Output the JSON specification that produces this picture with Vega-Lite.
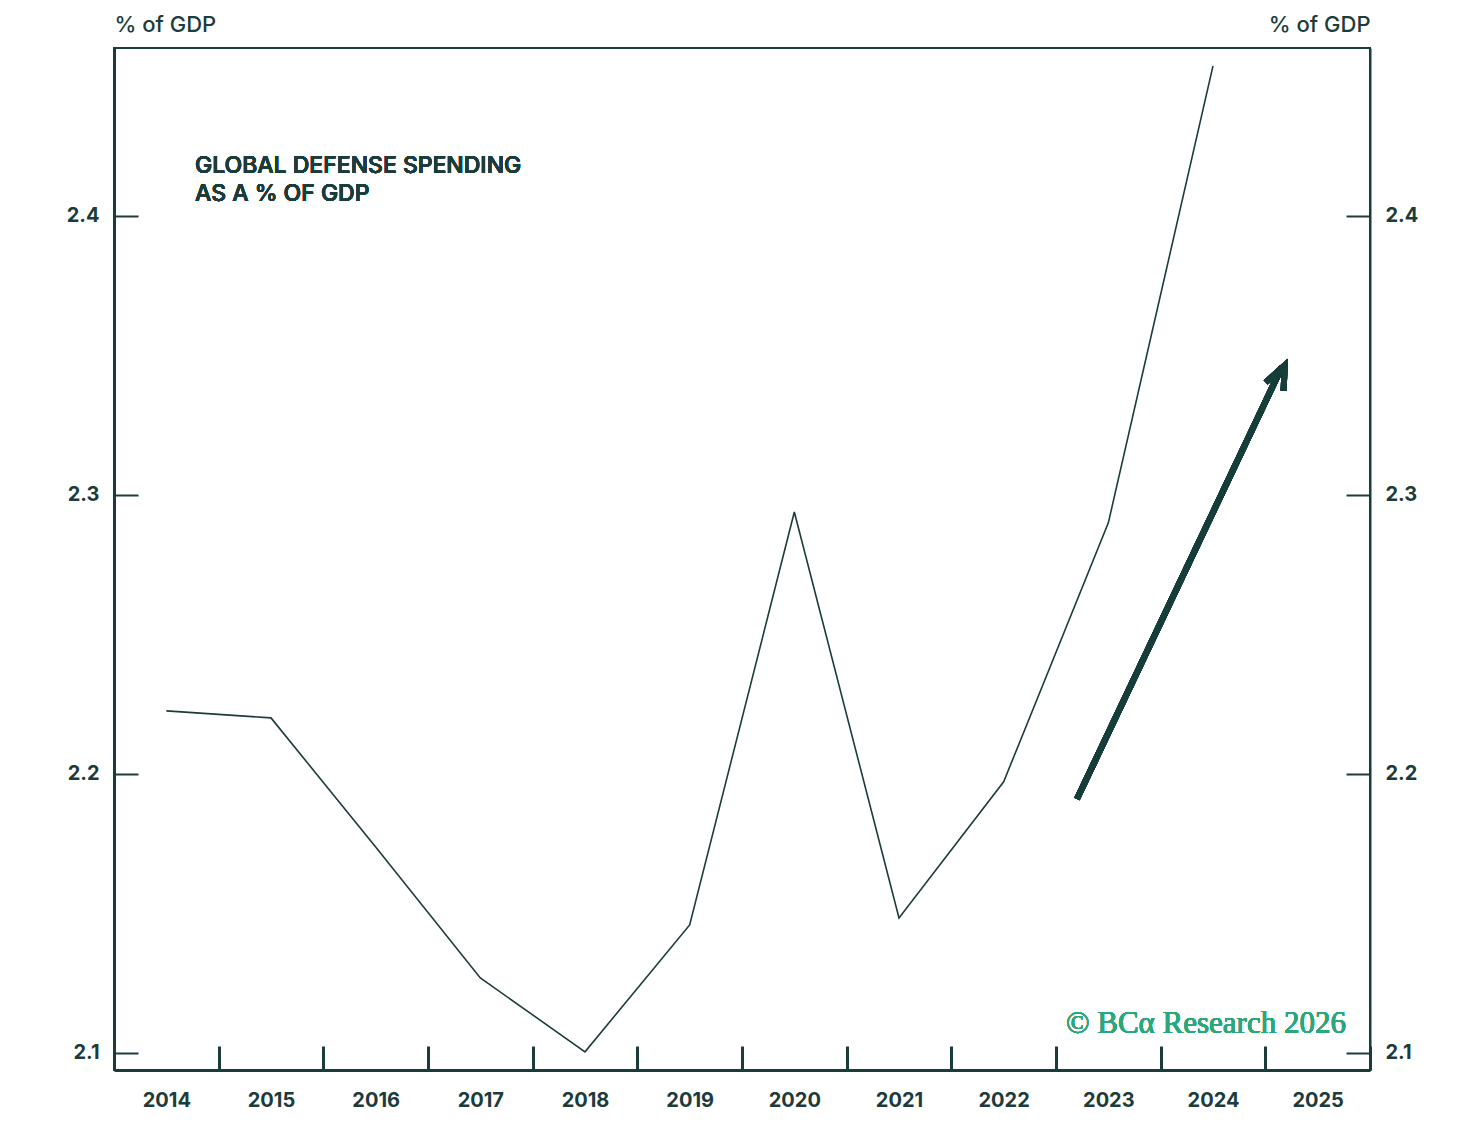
{
  "$schema": "https://vega.github.io/schema/vega-lite/v6.json",
  "width": 1256,
  "height": 1022,
  "autosize": {"type": "none"},
  "padding": {"left": 114, "top": 48, "right": 102, "bottom": 74},
  "background": "white",
  "config": {
    "view": {"stroke": "#1c3b3b", "strokeWidth": 2},
    "font": "Inter",
    "axis": {
      "domainColor": "#1c3b3b",
      "tickColor": "#1c3b3b",
      "labelColor": "#1c3b3b",
      "titleColor": "#1c3b3b",
      "labelFont": "Inter",
      "titleFont": "Inter",
      "grid": false
    }
  },
  "data": {
    "values": [
      {"year": "2014", "value": 2.2226},
      {"year": "2015", "value": 2.2201},
      {"year": "2016", "value": 2.1738},
      {"year": "2017", "value": 2.1269},
      {"year": "2018", "value": 2.1004},
      {"year": "2019", "value": 2.1459},
      {"year": "2020", "value": 2.2939},
      {"year": "2021", "value": 2.1484},
      {"year": "2022", "value": 2.1972},
      {"year": "2023", "value": 2.2900},
      {"year": "2024", "value": 2.4538}
    ]
  },
  "resolve": {"scale": {"x": "independent"}},
  "layer": [
    {
      "mark": {"type": "line", "color": "#1c3b3b", "strokeWidth": 1.6},
      "encoding": {
        "x": {
          "field": "year",
          "type": "ordinal",
          "scale": {
            "domain": ["2014", "2015", "2016", "2017", "2018", "2019", "2020", "2021", "2022", "2023", "2024", "2025"],
            "paddingInner": 0,
            "paddingOuter": 0
          },
          "axis": {
            "title": null,
            "labelAngle": 0,
            "tickBand": "extent",
            "tickSize": -24,
            "tickWidth": 3,
            "domainWidth": 3,
            "labelFontSize": 20,
            "labelFontWeight": "bold",
            "labelPadding": 44
          }
        },
        "y": {
          "field": "value",
          "type": "quantitative",
          "scale": {"domain": [2.0939, 2.4602], "nice": false, "zero": false},
          "axis": {
            "orient": "left",
            "values": [2.1, 2.2, 2.3, 2.4],
            "format": ".1f",
            "tickSize": -24,
            "tickWidth": 2,
            "domainWidth": 3,
            "labelFontSize": 20,
            "labelFontWeight": "bold",
            "labelPadding": 39,
            "title": "% of GDP",
            "titleAngle": 0,
            "titleAlign": "left",
            "titleBaseline": "middle",
            "titleX": 0,
            "titleY": -24,
            "titleFontSize": 22,
            "titleFontWeight": 500
          }
        }
      }
    },
    {
      "mark": {"type": "line", "opacity": 0},
      "encoding": {
        "y": {
          "field": "value",
          "type": "quantitative",
          "axis": {
            "orient": "right",
            "values": [2.1, 2.2, 2.3, 2.4],
            "format": ".1f",
            "tickSize": -24,
            "tickWidth": 2,
            "domainWidth": 2,
            "labelFontSize": 20,
            "labelFontWeight": "bold",
            "labelPadding": 39,
            "title": "% of GDP",
            "titleAngle": 0,
            "titleAlign": "right",
            "titleBaseline": "middle",
            "titleX": 0,
            "titleY": -24,
            "titleFontSize": 22,
            "titleFontWeight": 500
          }
        },
        "x": {
          "field": "year",
          "type": "ordinal",
          "scale": {"paddingInner": 0, "paddingOuter": 0},
          "axis": null
        }
      }
    },
    {
      "mark": {"type": "rule", "color": "#173d3a", "strokeWidth": 6},
      "encoding": {
        "x": {"datum": 9.2, "type": "quantitative", "scale": {"domain": [0, 12], "nice": false, "zero": false}, "axis": null},
        "y": {"datum": 2.191, "type": "quantitative", "axis": null},
        "x2": {"datum": 11.16},
        "y2": {"datum": 2.346}
      }
    },
    {
      "mark": {
        "type": "point",
        "shape": "M -0.75 0.85 L 0 -0.9 L 0.75 0.85",
        "filled": false,
        "stroke": "#173d3a",
        "strokeWidth": 6,
        "strokeJoin": "miter",
        "angle": 25,
        "size": 700,
        "opacity": 1
      },
      "encoding": {
        "x": {"datum": 11.135, "type": "quantitative", "scale": {"domain": [0, 12], "nice": false, "zero": false}, "axis": null},
        "y": {"datum": 2.3425, "type": "quantitative", "axis": null}
      }
    },
    {
      "mark": {
        "type": "text",
        "text": ["GLOBAL DEFENSE SPENDING", "AS A % OF GDP"],
        "align": "left",
        "baseline": "top",
        "font": "Inter",
        "fontSize": 23,
        "fontWeight": 500,
        "lineHeight": 28,
        "color": "#1c3b3b"
      },
      "encoding": {
        "x": {"datum": 0.774, "type": "quantitative", "scale": {"domain": [0, 12], "nice": false, "zero": false}, "axis": null},
        "y": {"datum": 2.4218, "type": "quantitative", "axis": null}
      }
    },
    {
      "mark": {
        "type": "text",
        "text": "© BCα Research 2026",
        "align": "right",
        "baseline": "alphabetic",
        "font": "Liberation Serif",
        "fontSize": 31,
        "fontWeight": "normal",
        "color": "#2aa87c"
      },
      "encoding": {
        "x": {"datum": 11.77, "type": "quantitative", "scale": {"domain": [0, 12], "nice": false, "zero": false}, "axis": null},
        "y": {"datum": 2.1072, "type": "quantitative", "axis": null}
      }
    }
  ]
}
